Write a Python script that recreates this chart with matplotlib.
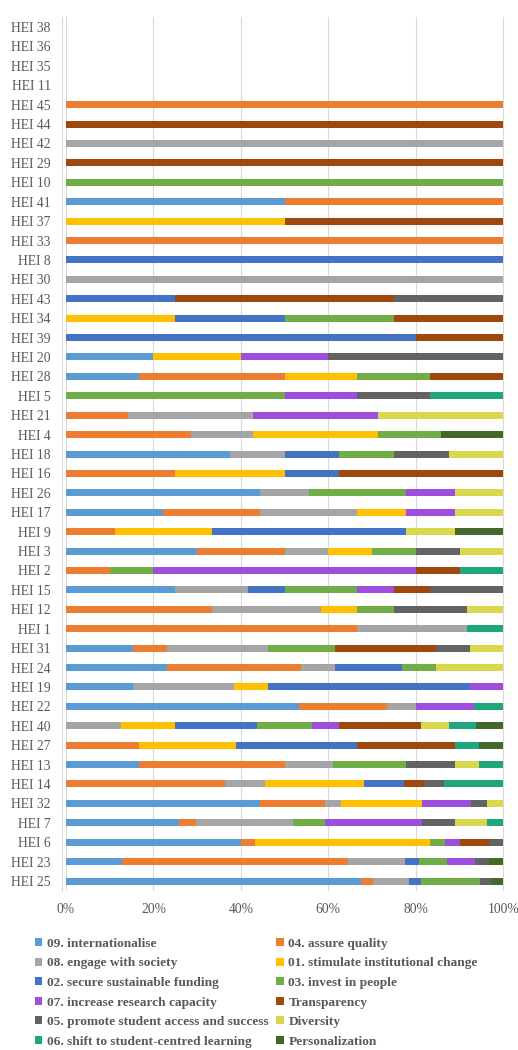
import numpy as np
import matplotlib.pyplot as plt
from matplotlib.patches import Patch

plt.rcParams['font.family'] = ['Liberation Serif', 'DejaVu Serif']

# HEIs from bottom to top
heis = ['HEI 25', 'HEI 23', 'HEI 6', 'HEI 7', 'HEI 32', 'HEI 14', 'HEI 13', 'HEI 27',
        'HEI 40', 'HEI 22', 'HEI 19', 'HEI 24', 'HEI 31', 'HEI 1', 'HEI 12', 'HEI 15',
        'HEI 2', 'HEI 3', 'HEI 9', 'HEI 17', 'HEI 26', 'HEI 16', 'HEI 18', 'HEI 4',
        'HEI 21', 'HEI 5', 'HEI 28', 'HEI 20', 'HEI 39', 'HEI 34', 'HEI 43', 'HEI 30',
        'HEI 8', 'HEI 33', 'HEI 37', 'HEI 41', 'HEI 10', 'HEI 29', 'HEI 42', 'HEI 44',
        'HEI 45', 'HEI 11', 'HEI 35', 'HEI 36', 'HEI 38']

# counts per theme, same order as heis
internationalise = [25, 4, 12, 7, 12, 0, 3, 0, 0, 8, 2, 3, 2, 0, 0, 3, 0, 3, 0, 2, 4, 0, 3, 0, 0, 0, 1, 1, 0, 0, 0, 0, 0, 0, 0, 1, 0, 0, 0, 0, 0, 0, 0, 0, 0]
assure_quality   = [1, 16, 1, 1, 4, 8, 6, 3, 0, 3, 0, 4, 1, 8, 4, 0, 1, 2, 1, 2, 0, 2, 0, 2, 1, 0, 2, 0, 0, 0, 0, 0, 0, 1, 0, 1, 0, 0, 0, 0, 1, 0, 0, 0, 0]
engage_society   = [3, 4, 0, 6, 1, 2, 2, 0, 2, 1, 3, 1, 3, 3, 3, 2, 0, 1, 0, 2, 1, 0, 1, 1, 2, 0, 0, 0, 0, 0, 0, 1, 0, 0, 0, 0, 0, 0, 1, 0, 0, 0, 0, 0, 0]
inst_change      = [0, 0, 12, 0, 5, 5, 0, 4, 2, 0, 1, 0, 0, 0, 1, 0, 0, 1, 2, 1, 0, 2, 0, 2, 0, 0, 1, 1, 0, 1, 0, 0, 0, 0, 1, 0, 0, 0, 0, 0, 0, 0, 0, 0, 0]
funding          = [1, 1, 0, 0, 0, 2, 0, 5, 3, 0, 6, 2, 0, 0, 0, 1, 0, 0, 4, 0, 0, 1, 1, 0, 0, 0, 0, 0, 4, 1, 1, 0, 1, 0, 0, 0, 0, 0, 0, 0, 0, 0, 0, 0, 0]
invest_people    = [5, 2, 1, 2, 0, 0, 3, 0, 2, 0, 0, 1, 2, 0, 1, 2, 1, 1, 0, 0, 2, 0, 1, 1, 0, 3, 1, 0, 0, 1, 0, 0, 0, 0, 0, 0, 1, 0, 0, 0, 0, 0, 0, 0, 0]
research         = [0, 2, 1, 6, 3, 0, 0, 0, 1, 2, 1, 0, 0, 0, 0, 1, 6, 0, 0, 1, 1, 0, 0, 0, 2, 1, 0, 1, 0, 0, 0, 0, 0, 0, 0, 0, 0, 0, 0, 0, 0, 0, 0, 0, 0]
transparency     = [0, 0, 2, 0, 0, 1, 0, 4, 3, 0, 0, 0, 3, 0, 0, 1, 1, 0, 0, 0, 0, 3, 0, 0, 0, 0, 1, 0, 1, 1, 2, 0, 0, 0, 1, 0, 0, 1, 0, 1, 0, 0, 0, 0, 0]
student_access   = [1, 1, 1, 2, 1, 1, 2, 0, 0, 0, 0, 0, 1, 0, 2, 2, 0, 1, 0, 0, 0, 0, 1, 0, 0, 1, 0, 2, 0, 0, 1, 0, 0, 0, 0, 0, 0, 0, 0, 0, 0, 0, 0, 0, 0]
diversity        = [0, 0, 0, 2, 1, 0, 1, 0, 1, 0, 0, 2, 1, 0, 1, 0, 0, 1, 1, 1, 1, 0, 1, 0, 2, 0, 0, 0, 0, 0, 0, 0, 0, 0, 0, 0, 0, 0, 0, 0, 0, 0, 0, 0, 0]
student_centred  = [0, 0, 0, 1, 0, 3, 1, 1, 1, 1, 0, 0, 0, 1, 0, 0, 1, 0, 0, 0, 0, 0, 0, 0, 0, 1, 0, 0, 0, 0, 0, 0, 0, 0, 0, 0, 0, 0, 0, 0, 0, 0, 0, 0, 0]
personalization  = [1, 1, 0, 0, 0, 0, 0, 1, 1, 0, 0, 0, 0, 0, 0, 0, 0, 0, 1, 0, 0, 0, 0, 1, 0, 0, 0, 0, 0, 0, 0, 0, 0, 0, 0, 0, 0, 0, 0, 0, 0, 0, 0, 0, 0]

series_names = ['09. internationalise', '04. assure quality', '08. engage with society',
                '01. stimulate institutional change', '02. secure sustainable funding',
                '03. invest in people', '07. increase research capacity', 'Transparency',
                '05. promote student access and success', 'Diversity',
                '06. shift to student-centred learning', 'Personalization']
colors = ['#5B9BD5', '#ED7D31', '#A5A5A5', '#FFC000', '#4472C4', '#70AD47',
          '#9D4EDD', '#9E480E', '#636363', '#D9D84C', '#1FA67C', '#43682B']

data = np.array([internationalise, assure_quality, engage_society, inst_change, funding,
                 invest_people, research, transparency, student_access, diversity,
                 student_centred, personalization], dtype=float)
totals = data.sum(axis=0)
pct = np.divide(data, totals, out=np.zeros_like(data), where=totals > 0) * 100

fig = plt.figure(figsize=(5.18, 10.5), dpi=100)
ax = fig.add_axes([0.1274, 0.1517, 0.8475, 0.8318])

y = np.arange(len(heis))
left = np.zeros(len(heis))
for i in range(len(series_names)):
    ax.barh(y, pct[i], left=left, height=0.36, color=colors[i], edgecolor='none', zorder=3)
    left += pct[i]

ax.set_xlim(0, 100.4)
ax.set_ylim(-0.5, len(heis) - 0.5)
ax.set_yticks(y)
ax.set_yticklabels(heis)
ax.set_xticks([0, 20, 40, 60, 80, 100])
ax.set_xticklabels(['0%', '20%', '40%', '60%', '80%', '100%'])
ax.tick_params(axis='both', length=0, labelcolor='#595959', labelsize=9.8)
ax.tick_params(axis='y', pad=8)
ax.tick_params(axis='x', pad=9)
ax.grid(axis='x', color='#D9D9D9', linewidth=0.8, zorder=0)
for s in ['top', 'right', 'bottom']:
    ax.spines[s].set_visible(False)
ax.spines['left'].set_color('#D9D9D9')
ax.spines['left'].set_position(('outward', 3))

# legend filled row by row
handles = [Patch(facecolor=c, edgecolor='none') for c in colors]
order = [0, 2, 4, 6, 8, 10, 1, 3, 5, 7, 9, 11]
fig.legend([handles[i] for i in order], [series_names[i] for i in order],
           ncol=2, loc='upper left', bbox_to_anchor=(0.057, 0.112), frameon=False,
           prop={'weight': 'bold', 'size': 9.6},
           labelcolor='#595959', handlelength=0.55, handleheight=0.55, handletextpad=0.35,
           columnspacing=0.6, labelspacing=0.57, borderaxespad=0)

fig.savefig('out.png', dpi=100)
